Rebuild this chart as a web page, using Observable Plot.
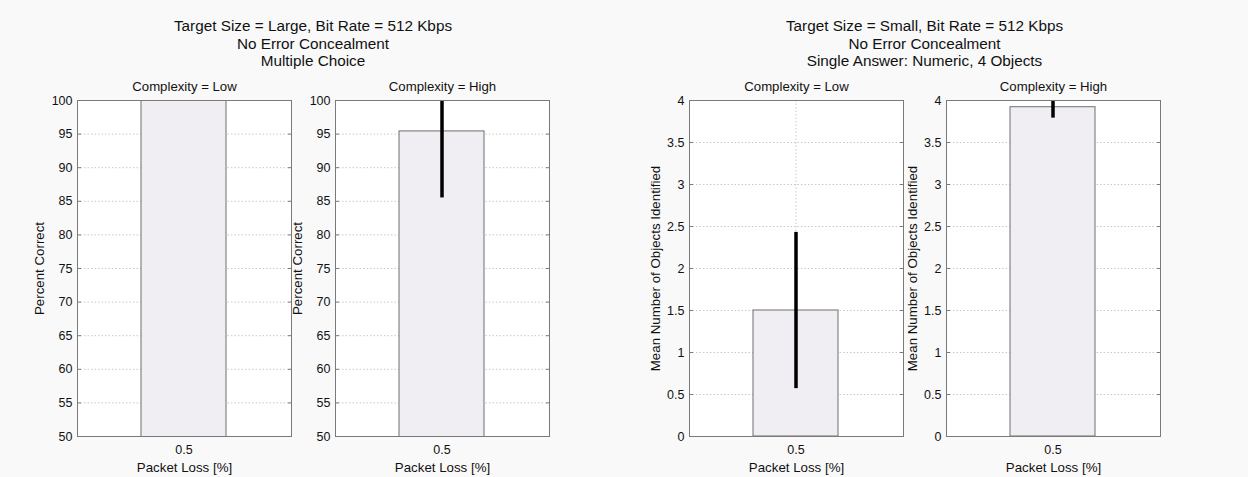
<!DOCTYPE html>
<html><head><meta charset="utf-8">
<script src="https://cdn.jsdelivr.net/npm/d3@7"></script>
<script src="https://cdn.jsdelivr.net/npm/@observablehq/plot@0.6"></script>
<style>
body{margin:0;background:#f9f9f9;}
#root{position:relative;width:1248px;height:477px;font-family:"Liberation Sans",Arial,sans-serif;color:#111;overflow:hidden;}
.title{position:absolute;text-align:center;font-size:15.3px;line-height:17.5px;width:500px;}
.panel{position:absolute;}
</style></head><body><div id="root"></div>
<script>
const packetLoss = ["0.5"];
const complexity = ["Low", "High"];
const percentCorrect = [100, 95.4];
const percentCorrectErr = [0, 9.9];
const meanObjects = [1.5, 3.92];
const meanObjectsErr = [0.93, 0.13];
const percentTicks = [50, 55, 60, 65, 70, 75, 80, 85, 90, 95, 100];
const objectTicks = [0, 0.5, 1, 1.5, 2, 2.5, 3, 3.5, 4];
const objectTickLabels = ["0", "0.5", "1", "1.5", "2", "2.5", "3", "3.5", "4"];
const groupTitles = [
  ["Target Size = Large, Bit Rate = 512 Kbps", "No Error Concealment", "Multiple Choice"],
  ["Target Size = Small, Bit Rate = 512 Kbps", "No Error Concealment", "Single Answer: Numeric, 4 Objects"]
];
const xLabel = "Packet Loss [%]";
const yLabels = ["Percent Correct", "Mean Number of Objects Identified"];

const root = document.getElementById("root");
const frameLefts = [77, 335, 689, 946];
const FW = 214, FH = 336, FT = 100;
const mL = 60, mR = 10, mT = 24, mB = 44;

const groups = [
  {values: percentCorrect, errs: percentCorrectErr, domain: [50, 100], ticks: percentTicks, fmt: d => String(d), label: yLabels[0], off: 43},
  {values: meanObjects, errs: meanObjectsErr, domain: [0, 4], ticks: objectTicks, fmt: d => objectTickLabels[objectTicks.indexOf(d)], label: yLabels[1], off: 39}
];

groups.forEach((g, gi) => {
  const t = document.createElement("div");
  t.className = "title";
  const l0 = frameLefts[gi * 2], r1 = frameLefts[gi * 2 + 1] + FW;
  t.style.left = ((l0 + r1) / 2 - 250) + "px";
  t.style.top = "17px";
  t.innerHTML = groupTitles[gi].map(s => `<div>${s}</div>`).join("");
  root.appendChild(t);

  complexity.forEach((c, ci) => {
    const data = packetLoss.map(p => ({
      loss: p,
      value: g.values[ci],
      lo: g.values[ci] - g.errs[ci],
      hi: g.values[ci] + g.errs[ci]
    }));
    const chart = Plot.plot({
      width: mL + FW + mR,
      height: mT + FH + mB,
      marginLeft: mL, marginRight: mR, marginTop: mT, marginBottom: mB,
      style: {background: "transparent", fontFamily: "Liberation Sans, Arial, sans-serif", fontSize: "12.5px", color: "#111"},
      x: {type: "band", domain: packetLoss, padding: 0.4286},
      y: {domain: g.domain},
      marks: [
        Plot.frame({fill: "white"}),
        Plot.ruleY(g.ticks, {stroke: "#c8c8c8", strokeDasharray: "1.5,2"}),
        Plot.ruleX(packetLoss, {x: d => d, stroke: "#c8c8c8", strokeDasharray: "1.5,2"}),
        Plot.barY(data, {x: "loss", y: "value", fill: "#f0eef2", stroke: "#6e6e6e", strokeWidth: 1, clip: true}),
        Plot.ruleX(data.filter(d => d.hi > d.lo), {x: "loss", y1: "lo", y2: "hi", stroke: "black", strokeWidth: 3.5, clip: true}),
        Plot.axisY({ticks: g.ticks, tickFormat: g.fmt, tickSize: 0, tickPadding: 5, label: null}),
        Plot.axisY({ticks: g.ticks, tickFormat: () => "", tickSize: -4, stroke: "#7a7a7a", label: null}),
        Plot.axisY({anchor: "right", ticks: g.ticks, tickFormat: () => "", tickSize: -4, stroke: "#7a7a7a", label: null}),
        Plot.axisY({ticks: [], fontSize: 13.3, label: g.label, labelAnchor: "center", labelOffset: g.off, labelArrow: "none"}),
        Plot.axisX({tickSize: 0, tickPadding: 9, label: null}),
        Plot.axisX({ticks: [], fontSize: 13.3, label: xLabel, labelAnchor: "center", labelOffset: 35, labelArrow: "none"}),
        Plot.frame({stroke: "#7a7a7a"}),
        Plot.text([`Complexity = ${c}`], {text: d => d, frameAnchor: "top", lineAnchor: "middle", dy: -14, fontSize: 13.2})
      ]
    });
    chart.classList.add("panel");
    chart.style.position = "absolute";
    chart.style.left = (frameLefts[gi * 2 + ci] - mL) + "px";
    chart.style.top = (FT - mT) + "px";
    root.appendChild(chart);
  });
});
</script>
</body></html>
